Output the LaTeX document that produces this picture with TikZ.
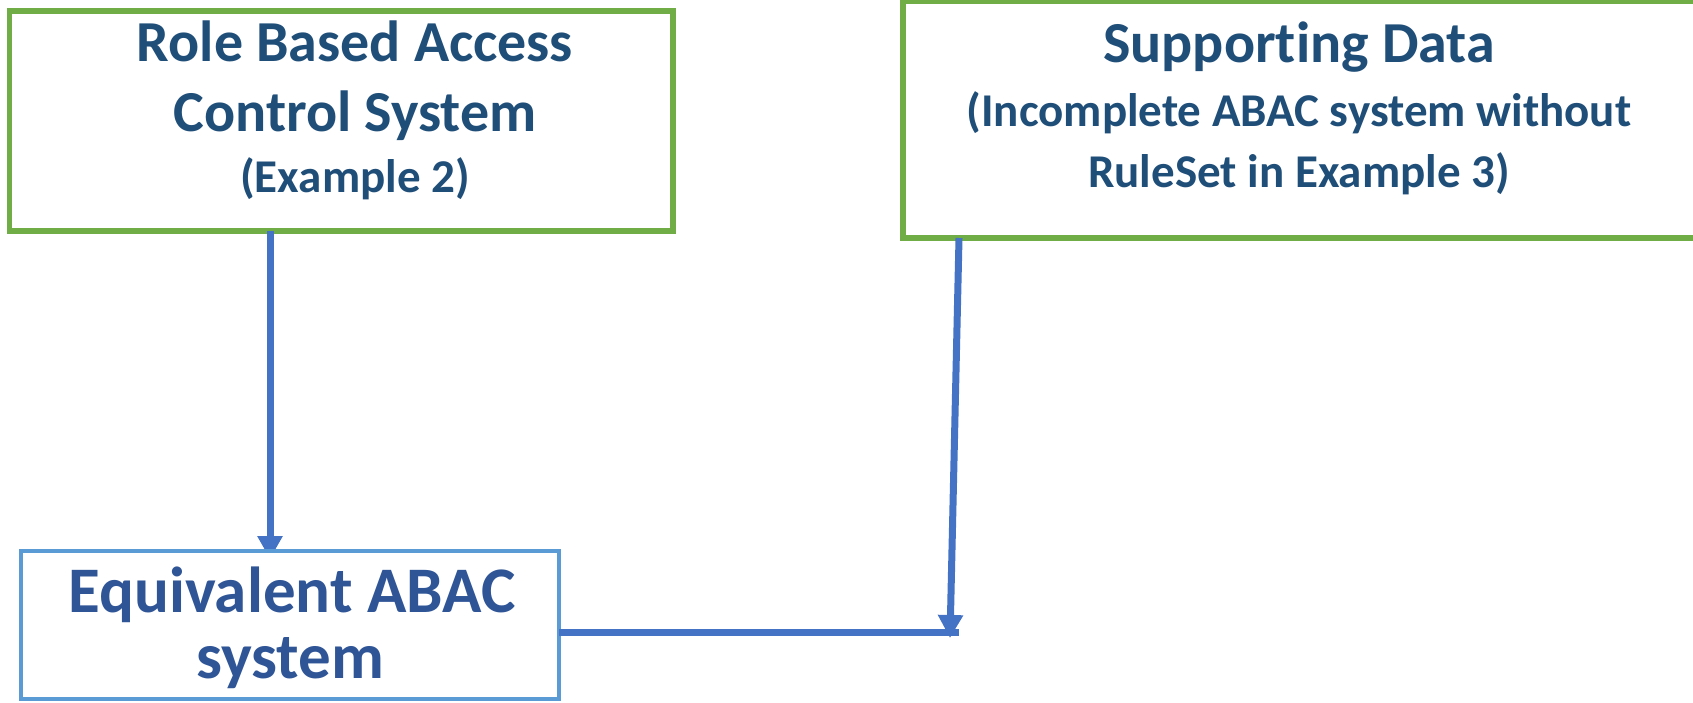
\documentclass[tikz,border=0pt]{standalone}
\usepackage{fontspec}
\setmainfont{Carlito}[Ligatures=NoCommon]
\usetikzlibrary{arrows.meta,calc}

\definecolor{boxgreen}{HTML}{70AD47}
\definecolor{boxblue}{HTML}{5B9BD5}
\definecolor{linkblue}{HTML}{4472C4}
\definecolor{navy}{HTML}{1F4E79}
\definecolor{royal}{HTML}{2F5597}

\tikzset{
  greenbox/.style={draw=boxgreen, line width=5.5pt, fill=white, rectangle, inner sep=0pt, outer sep=0pt},
  bluebox/.style={draw=boxblue, line width=4.5pt, fill=white, rectangle, inner sep=0pt, outer sep=0pt},
  link/.style={draw=linkblue, line width=7pt},
  linkarrow/.style={link, -{Triangle[width=24pt,length=23pt]}},
  bigtxt/.style={anchor=base, inner sep=0pt, text=navy, font=\bfseries\fontsize{58}{69}\selectfont},
  smalltxt/.style={anchor=base, inner sep=0pt, text=navy, font=\bfseries\fontsize{47}{56}\selectfont},
  eqtxt/.style={anchor=base, inner sep=0pt, text=royal, font=\bfseries\fontsize{65}{77}\selectfont},
}

\begin{document}
\begin{tikzpicture}[x=1pt,y=-1pt]
  \useasboundingbox (0,0) rectangle (1693,702);

  % end points of the joining line and of the right-hand arrow
  \coordinate (join) at (951,632);
  \coordinate (joinend) at (959,632);
  \coordinate (tip2) at (950,638);

  % the two source boxes (placed by their border centre lines)
  \node[greenbox, minimum width=663.5pt, minimum height=220pt] (rbac) at (341.25,121) {};
  \node[greenbox, minimum width=797pt, minimum height=237pt] (sup) at (1301.5,119.5) {};

  % connectors; the lower box is drawn afterwards and covers the first tip
  \draw[linkarrow] ($(rbac.south west)+(260.5,0)$) -- ($(rbac.south west)+(260.5,328)$);
  \draw[linkarrow] ($(sup.south west)+(56,0)$) -- (tip2);

  \node[bluebox, minimum width=538pt, minimum height=148pt] (eq) at (290,625) {};
  \draw[link] (eq.east |- join) -- (joinend);

  % box texts
  \node[bigtxt]   (rbac1) at (355,61.5)  {Role Based Access};
  \node[bigtxt]   (rbac2) at (355,131.7) {Control System};
  \node[smalltxt] (rbac3) at (355,192.2) {(Example 2)};

  \node[bigtxt]   (sup1) at (1299,62.6)  {Supporting Data};
  \node[smalltxt] (sup2) at (1299,126.3) {(Incomplete ABAC system without};
  \node[smalltxt] (sup3) at (1299,187.9) {RuleSet in Example 3)};

  \node[eqtxt] (eq1) at (292,612) {Equivalent ABAC};
  \node[eqtxt] (eq2) at (290,678) {system};
\end{tikzpicture}
\end{document}
